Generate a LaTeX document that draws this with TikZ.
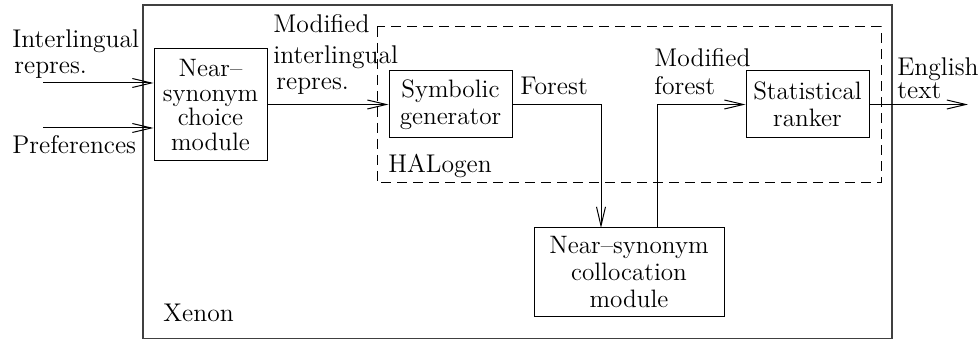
\documentclass[tikz,border=0pt]{standalone}
\usetikzlibrary{arrows.meta}

\tikzset{
  lbl/.style={anchor=base west, inner sep=0pt, font=\fontsize{12.8pt}{14pt}\selectfont},
  module/.style={draw, line width=0.5pt, inner sep=0pt, align=center,
                 font=\fontsize{12.6pt}{13.5pt}\selectfont},
  flow/.style={line width=0.5pt, -{Straight Barb[length=9.5pt,width=4.5pt,line width=0.5pt]}},
}

\begin{document}
\begin{tikzpicture}[x=0.5pt,y=-0.5pt]
\useasboundingbox (0,0) rectangle (979,340);

% Xenon system boundary and the HALogen sub-system
\draw[line width=0.6pt, black!75] (143,5) rectangle (892,338.5);
\draw[line width=0.5pt, dash pattern=on 5pt off 3pt] (377,27) rectangle (881,183);

% modules
\node[module, minimum width=56.5pt, minimum height=56pt,
      font=\fontsize{12.6pt}{12.2pt}\selectfont] (choice) at (210.5,105)
      {Near–\\synonym\\choice\\module};
\node[module, minimum width=61.5pt, minimum height=33.5pt] (symb) at (450.5,104.5)
      {Symbolic\\generator};
\node[module, minimum width=61.5pt, minimum height=33.5pt] (rank) at (807.5,104.5)
      {Statistical\\ranker};
\node[module, minimum width=95pt, minimum height=44.5pt] (coll) at (629,272.5)
      {Near–synonym\\collocation\\module};

% labels
\node[lbl] (lIn1) at (12,48) {Interlingual};
\node[lbl] (lIn2) at (14,73.5) {repres.};
\node[lbl] (lPref) at (12,154) {Preferences};
\node[lbl] (lMod1) at (273,33) {Modified};
\node[lbl] (lMod2) at (273,64) {interlingual};
\node[lbl] (lMod3) at (276,90) {repres.};
\node[lbl] (lFor) at (520,95) {Forest};
\node[lbl] (lMf1) at (654,67) {Modified};
\node[lbl] (lMf2) at (654,95) {forest};
\node[lbl] (lHal) at (388,173) {HALogen};
\node[lbl] (lEng1) at (897,76) {English};
\node[lbl] (lEng2) at (897,99) {text};
\node[lbl] (lXen) at (163,322) {Xenon};

% connector end points
\coordinate (in1) at (43,83);
\coordinate (in2) at (43,128);
\coordinate (fdown) at (601,228);
\coordinate (fup) at (657,228);
\coordinate (out) at (968,104.5);

% connectors
\draw[flow] (in1) -- (in1 -| choice.west);
\draw[flow] (in2) -- (in2 -| choice.west);
\draw[flow] (choice.east |- symb.west) -- (symb.west);
\draw[flow] (symb.east) -| (fdown);
\draw[flow] (fup) |- (rank.west);
\draw[flow] (rank.east) -- (out);
\end{tikzpicture}
\end{document}
